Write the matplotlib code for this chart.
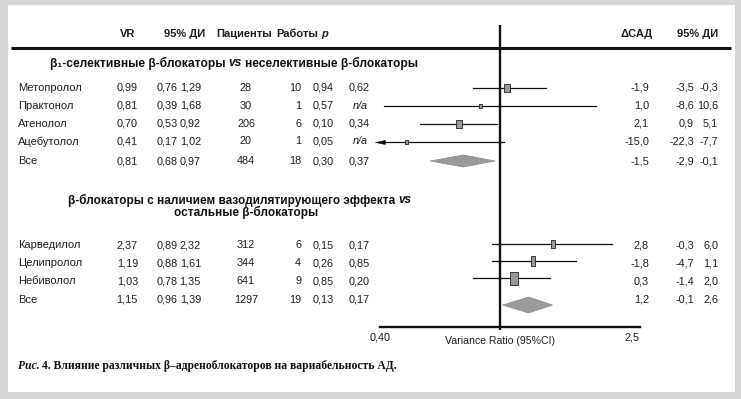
import matplotlib
matplotlib.use("Agg")
import matplotlib.pyplot as plt
from matplotlib.patches import Rectangle, Polygon
from matplotlib.ticker import FixedLocator, NullLocator

# ---------------- data ----------------
# group 1: beta1-selective vs non-selective
drugs1 = ["Метопролол", "Практонол", "Атенолол", "Ацебутолол", "Все"]
vr1 = [0.99, 0.81, 0.70, 0.41, 0.81]
ci_lo1 = [0.76, 0.39, 0.53, 0.17, 0.68]
ci_hi1 = [1.29, 1.68, 0.92, 1.02, 0.97]
patients1 = [28, 30, 206, 20, 484]
studies1 = [10, 1, 6, 1, 18]
p1 = ["0,94", "0,57", "0,10", "0,05", "0,30"]
p_het1 = ["0,62", "n/a", "0,34", "n/a", "0,37"]
dsbp1 = [-1.9, 1.0, 2.1, -15.0, -1.5]
dsbp_lo1 = [-3.5, -8.6, 0.9, -22.3, -2.9]
dsbp_hi1 = [-0.3, 10.6, 5.1, -7.7, -0.1]

# group 2: vasodilating vs other beta-blockers
drugs2 = ["Карведилол", "Целипролол", "Небиволол", "Все"]
vr2 = [2.37, 1.19, 1.03, 1.15]
ci_lo2 = [0.89, 0.88, 0.78, 0.96]
ci_hi2 = [2.32, 1.61, 1.35, 1.39]
patients2 = [312, 344, 641, 1297]
studies2 = [6, 4, 9, 19]
p2 = ["0,15", "0,26", "0,85", "0,13"]
p_het2 = ["0,17", "0,85", "0,20", "0,17"]
dsbp2 = [2.8, -1.8, 0.3, 1.2]
dsbp_lo2 = [-0.3, -4.7, -1.4, -0.1]
dsbp_hi2 = [6.0, 1.1, 2.0, 2.6]

# positions of the marks as drawn in the picture (variance ratio scale)
plot_pt1 = [0.98, 0.81, 0.70, 0.48, 0.72]
plot_lo1 = [0.77, 0.41, 0.53, 0.17, 0.57]
plot_hi1 = [1.29, 1.83, 0.91, 0.96, 0.90]
plot_pt2 = [1.35, 1.18, 1.03, 1.14]
plot_lo2 = [0.88, 0.88, 0.77, 0.95]
plot_hi2 = [2.05, 1.59, 1.33, 1.35]
ref_line = 0.93

axis_ticks = [0.40, 2.5]
axis_tick_labels = ["0,40", "2,5"]

headers_left = ["VR", "95% ДИ", "Пациенты", "Работы"]
headers_right = ["ΔСАД", "95% ДИ"]

# ---------------- layout / style ----------------
W, H = 741, 399
SANS = ["Liberation Sans", "DejaVu Sans"]
SERIF = ["Liberation Serif", "DejaVu Serif"]
FS = 8.0      # names / headers
NFS = 7.8     # numbers
TXT = "#1e1e1e"
BOX = "#9a9a9a"

rows1_y = [88, 106, 124, 141.5, 161]
rows2_text_y = [245, 263, 281, 300]
rows2_mark_y = [244, 261, 278, 305]
box_h1 = [8, 4, 8, 4]          # px
box_r1 = [0.75, 0.75, 0.75, 0.75]
box_h2 = [8, 10, 13]
box_r2 = [0.62, 0.5, 0.54]
diamond_h = [12, 16]

fig = plt.figure(figsize=(W / 100, H / 100), dpi=100, facecolor="#d6d6d6")
ov = fig.add_axes([0, 0, 1, 1])
ov.set_xlim(0, W)
ov.set_ylim(H, 0)
ov.axis("off")
ov.add_patch(Rectangle((8, 5), 727, 387, facecolor="white", edgecolor="none"))
ov.plot([11, 731], [47.5, 47.5], color="#111111", lw=2.2, solid_capstyle="butt")

renderer = fig.canvas.get_renderer()


def tw(s, **kw):
    t = ov.text(0, 0, s, **kw)
    w = t.get_window_extent(renderer).width
    t.remove()
    return w


def pieces(x, y, parts, ha="left", **common):
    widths = [tw(s, **common, **k) for s, k in parts]
    gap = tw("a a", **common, **parts[0][1]) - tw("aa", **common, **parts[0][1])
    total = sum(widths) + gap * (len(parts) - 1)
    if ha == "center":
        x = x - total / 2
    elif ha == "right":
        x = x - total
    for (s, k), w in zip(parts, widths):
        ov.text(x, y, s, ha="left", va="center", **common, **k)
        x += w + gap


def T(x, y, s, ha="left", **kw):
    base = dict(family=SANS, fontsize=FS, color=TXT, va="center")
    base.update(kw)
    ov.text(x, y, s, ha=ha, **base)


def N(x, y, s, ha="right", **kw):
    T(x, y, s, ha=ha, fontsize=NFS, **kw)


def fmt2(v):
    return f"{v:.2f}".replace(".", ",")


def fmt1(v):
    return f"{v:.1f}".replace(".", ",")


# headers
hy = 34
T(128, hy, headers_left[0], ha="center", weight="bold")
T(185, hy, headers_left[1], ha="center", weight="bold")
T(244, hy, headers_left[2], ha="center", weight="bold")
T(297, hy, headers_left[3], ha="center", weight="bold")
T(325, hy, "p", ha="center", weight="bold", style="italic")
T(637, hy, headers_right[0], ha="center", weight="bold")
T(718, hy, headers_right[1], ha="right", weight="bold")

# group titles
B = dict(weight="bold")
BI = dict(weight="bold", style="italic")
pieces(234, 63, [("β₁-селективные β-блокаторы", B), ("vs", BI),
                 ("неселективные β-блокаторы", B)],
       ha="center", family=SANS, fontsize=8.65, color="#111111")
pieces(240, 200, [("β-блокаторы с наличием вазодилятирующего эффекта", B), ("vs", BI)],
       ha="center", family=SANS, fontsize=8.5, color="#111111")
pieces(246, 212, [("остальные β-блокаторы", B)],
       ha="center", family=SANS, fontsize=8.5, color="#111111")


def table_rows(ys, drugs, vr, lo, hi, pat, st, p, ph, d, dlo, dhi):
    for i, y in enumerate(ys):
        T(18, y, drugs[i])
        N(138, y, fmt2(vr[i]))
        N(178, y, fmt2(lo[i]))
        N(201, y, fmt2(hi[i]))
        N(246, y, str(pat[i]), ha="center")
        N(301, y, str(st[i]))
        N(334, y, p[i])
        if ph[i] == "n/a":
            N(353, y, ph[i], ha="left", style="italic")
        else:
            N(349, y, ph[i], ha="left")
        N(649, y, fmt1(d[i]))
        N(694, y, fmt1(dlo[i]))
        N(718, y, fmt1(dhi[i]))


table_rows(rows1_y, drugs1, vr1, ci_lo1, ci_hi1, patients1, studies1, p1, p_het1,
           dsbp1, dsbp_lo1, dsbp_hi1)
table_rows(rows2_text_y, drugs2, vr2, ci_lo2, ci_hi2, patients2, studies2, p2, p_het2,
           dsbp2, dsbp_lo2, dsbp_hi2)

# axis label and caption
T(500, 341, "Variance Ratio (95%CI)", ha="center", fontsize=7.6)
cap_kw = dict(family=SERIF, fontsize=8.4, color="#111111")
pieces(18, 366, [("Рис.", dict(weight="bold", style="italic")),
                 ("4. Влияние различных β–адреноблокаторов на вариабельность АД.", B)],
       **cap_kw)

# ---------------- forest plot ----------------
ax = fig.add_axes([380 / W, (H - 327) / H, 260 / W, (327 - 20) / H])
ax.set_xscale("log")
xmin, xmax = 0.4, 2.5
ax.set_xlim(xmin, xmax)
ax.set_ylim(327, 20)
ax.patch.set_alpha(0)
for s in ["top", "right", "left"]:
    ax.spines[s].set_visible(False)
ax.spines["bottom"].set_linewidth(1.7)
ax.spines["bottom"].set_color("#111111")
ax.xaxis.set_major_locator(FixedLocator(axis_ticks))
ax.xaxis.set_minor_locator(NullLocator())
ax.set_xticklabels(axis_tick_labels, family=SANS, fontsize=NFS, color=TXT)
ax.get_xticklabels()[-1].set_ha("right")
ax.tick_params(axis="x", which="both", length=0, pad=4)
ax.set_yticks([])

ax.plot([ref_line, ref_line], [25, 330], color="#111111", lw=1.7, clip_on=False,
        solid_capstyle="butt", zorder=3)


def rect_marker(r):
    return [(-r, -1), (r, -1), (r, 1), (-r, 1), (-r, -1)]


arrow_marker = [(-1, 0), (1, 0.42), (1, -0.42), (-1, 0)]


def study_rows(ys, pts, los, his, hs, rs):
    for y, pt, lo, hi, h, r in zip(ys, pts, los, his, hs, rs):
        lo_c = max(lo, xmin)
        ax.plot([lo_c, hi], [y, y], color="#111111", lw=0.9, zorder=4, clip_on=False)
        if lo < xmin:
            ax.plot([xmin], [y], marker=arrow_marker, ms=7.2, color="#111111",
                    mec="#111111", mew=0.3, clip_on=False, zorder=4)
        ax.plot([pt], [y], marker=rect_marker(r), ms=h * 0.72, mfc=BOX,
                mec="#222222", mew=0.6, ls="none", zorder=5)


def diamond(y, pt, lo, hi, h):
    ax.add_patch(Polygon([(lo, y), (pt, y - h / 2), (hi, y), (pt, y + h / 2)],
                         closed=True, facecolor=BOX, edgecolor="#8a8a8a", lw=0.5,
                         zorder=5))


study_rows(rows1_y[:4], plot_pt1[:4], plot_lo1[:4], plot_hi1[:4], box_h1, box_r1)
diamond(rows1_y[4], plot_pt1[4], plot_lo1[4], plot_hi1[4], diamond_h[0])
study_rows(rows2_mark_y[:3], plot_pt2[:3], plot_lo2[:3], plot_hi2[:3], box_h2, box_r2)
diamond(rows2_mark_y[3], plot_pt2[3], plot_lo2[3], plot_hi2[3], diamond_h[1])

fig.savefig("out.png", dpi=100, facecolor=fig.get_facecolor())
